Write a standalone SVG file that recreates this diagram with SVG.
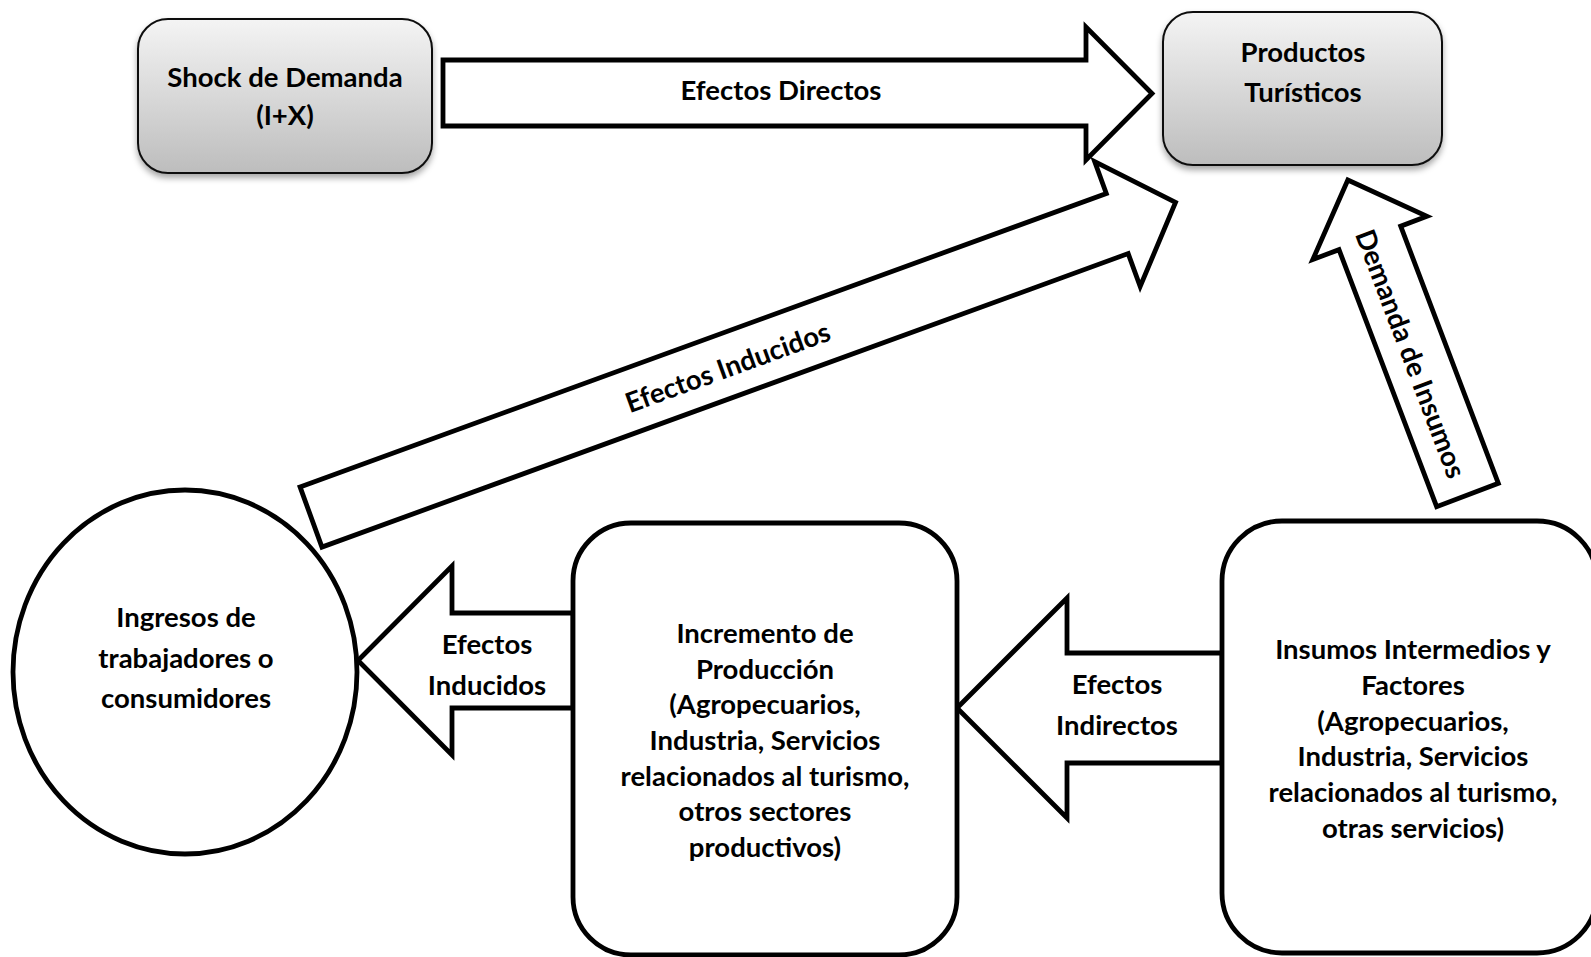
<svg xmlns="http://www.w3.org/2000/svg" width="1591" height="957" viewBox="0 0 1591 957">
  <defs>
    <linearGradient id="gray" x1="0" y1="0" x2="0" y2="1">
      <stop offset="0" stop-color="#f4f4f4"/>
      <stop offset="1" stop-color="#bdbdbd"/>
    </linearGradient>
    <filter id="shadow" x="-10%" y="-10%" width="120%" height="130%">
      <feDropShadow dx="0" dy="4" stdDeviation="3" flood-color="#000" flood-opacity="0.35"/>
    </filter>
  </defs>
  <style>
    .t { font-family: Lato, "Liberation Sans", sans-serif; font-weight: bold; font-size: 27.5px; fill: #000; text-anchor: middle; }
    .arrow { fill: #fff; stroke: #000; stroke-width: 4.8; stroke-linejoin: miter; stroke-miterlimit: 10; }
    .box { fill: #fff; stroke: #000; stroke-width: 4.8; }
    .gbox { fill: url(#gray); stroke: #111; stroke-width: 2; filter: url(#shadow); }
  </style>
  <rect width="1591" height="957" fill="#fff"/>

  <g id="connectors">
    <g id="arrow-directos">
      <polygon class="arrow" points="443,60 1086,60 1086,27 1152,93.5 1086,160 1086,126 443,126"/>
      <text class="t" x="781" y="100">Efectos Directos</text>
    </g>
    <g id="arrow-inducidos-diag">
      <polygon class="arrow" transform="translate(311,517) rotate(-20)" points="0,-32 858,-32 858,-66 920,0 858,67 858,32 0,32"/>
      <text class="t" transform="translate(728,368) rotate(-20)" x="0" y="9">Efectos Inducidos</text>
    </g>
    <g id="arrow-demanda">
      <polygon class="arrow" transform="translate(1467.5,495) rotate(-110.8)" points="0,-33 275,-33 275,-61 337,0 275,61 275,33 0,33"/>
      <text class="t" transform="translate(1410,354) rotate(69.2)" x="0" y="9">Demanda de Insumos</text>
    </g>
    <g id="arrow-inducidos">
      <polygon class="arrow" points="573,613 452,613 452,566 358,660.5 452,755 452,708 573,708"/>
      <text class="t" x="487" y="654">Efectos</text>
      <text class="t" x="487" y="695">Inducidos</text>
    </g>
    <g id="arrow-indirectos">
      <polygon class="arrow" points="1222,653 1067,653 1067,598 957,708 1067,818 1067,763 1222,763"/>
      <text class="t" x="1117" y="694">Efectos</text>
      <text class="t" x="1117" y="735">Indirectos</text>
    </g>
  </g>

  <g id="shock">
    <rect class="gbox" x="138" y="19" width="294" height="154" rx="30" ry="30"/>
    <text class="t" x="285" y="87">Shock de Demanda</text>
    <text class="t" x="285" y="125">(I+X)</text>
  </g>

  <g id="productos">
    <rect class="gbox" x="1163" y="12" width="279" height="153" rx="30" ry="30"/>
    <text class="t" x="1303" y="62">Productos</text>
    <text class="t" x="1303" y="102">Turísticos</text>
  </g>

  <g id="ingresos">
    <ellipse class="box" cx="185" cy="672" rx="172" ry="182"/>
    <text class="t" x="186" y="627">Ingresos de</text>
    <text class="t" x="186" y="668">trabajadores o</text>
    <text class="t" x="186" y="708">consumidores</text>
  </g>

  <g id="incremento">
    <rect class="box" x="573" y="523" width="384" height="432" rx="58" ry="58"/>
    <text class="t" x="765" y="643">Incremento de</text>
    <text class="t" x="765" y="679">Producción</text>
    <text class="t" x="765" y="714">(Agropecuarios,</text>
    <text class="t" x="765" y="750">Industria, Servicios</text>
    <text class="t" x="765" y="786">relacionados al turismo,</text>
    <text class="t" x="765" y="821">otros sectores</text>
    <text class="t" x="765" y="857">productivos)</text>
  </g>

  <g id="insumos">
    <rect class="box" x="1222" y="521" width="375" height="432" rx="60" ry="60"/>
    <text class="t" x="1413" y="659">Insumos Intermedios y</text>
    <text class="t" x="1413" y="695">Factores</text>
    <text class="t" x="1413" y="731">(Agropecuarios,</text>
    <text class="t" x="1413" y="766">Industria, Servicios</text>
    <text class="t" x="1413" y="802">relacionados al turismo,</text>
    <text class="t" x="1413" y="838">otras servicios)</text>
  </g>
</svg>
